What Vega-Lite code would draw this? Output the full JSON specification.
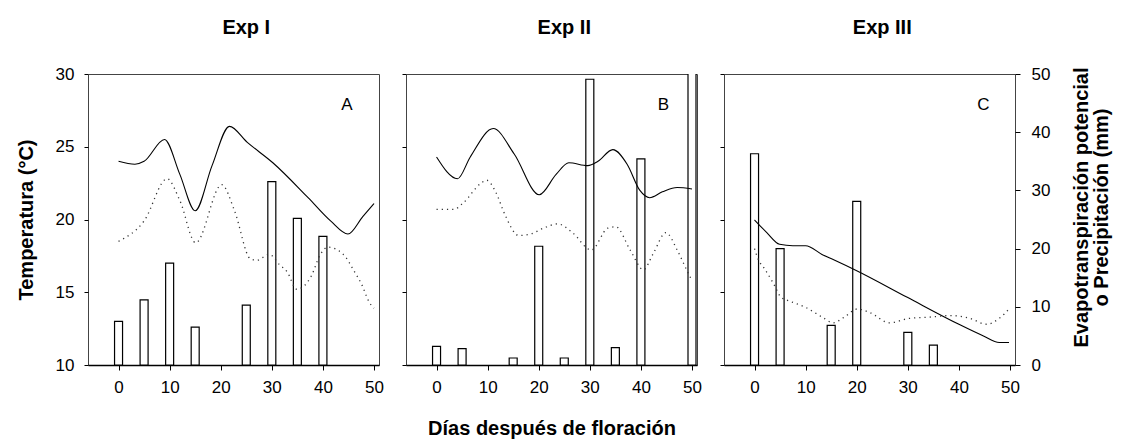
{
  "$schema": "https://vega.github.io/schema/vega-lite/v6.json",
  "padding": {"left": 15, "top": 17, "right": 5, "bottom": 0},
  "background": "white",
  "config": {
    "font": "Liberation Sans",
    "view": {"stroke": "#444", "strokeWidth": 1},
    "axis": {"grid": false, "labelFont": "Liberation Sans", "labelFontSize": 17, "labelColor": "black", "tickColor": "black", "domainColor": "#333", "titleFont": "Liberation Sans", "titleFontSize": 20, "titleFontWeight": "bold", "titleColor": "black"}
  },
  "datasets": {
    "bars": [
      {"exp": "A", "day": 0, "mm": 7.5}, {"exp": "A", "day": 5, "mm": 11.2}, {"exp": "A", "day": 10, "mm": 17.5}, {"exp": "A", "day": 15, "mm": 6.5}, {"exp": "A", "day": 25, "mm": 10.3}, {"exp": "A", "day": 30, "mm": 31.5}, {"exp": "A", "day": 35, "mm": 25.2}, {"exp": "A", "day": 40, "mm": 22.1},
      {"exp": "B", "day": 0, "mm": 3.2}, {"exp": "B", "day": 5, "mm": 2.8}, {"exp": "B", "day": 15, "mm": 1.2}, {"exp": "B", "day": 20, "mm": 20.4}, {"exp": "B", "day": 25, "mm": 1.2}, {"exp": "B", "day": 30, "mm": 49.1}, {"exp": "B", "day": 35, "mm": 3.0}, {"exp": "B", "day": 40, "mm": 35.4}, {"exp": "B", "day": 50, "mm": 55},
      {"exp": "C", "day": 0, "mm": 36.3}, {"exp": "C", "day": 5, "mm": 20.0}, {"exp": "C", "day": 15, "mm": 6.8}, {"exp": "C", "day": 20, "mm": 28.1}, {"exp": "C", "day": 30, "mm": 5.6}, {"exp": "C", "day": 35, "mm": 3.4}
    ],
    "lines": [
      {"exp": "A", "s": "max", "day": 0, "t": 24.0}, {"exp": "A", "s": "max", "day": 3.2, "t": 23.8}, {"exp": "A", "s": "max", "day": 5, "t": 24.0}, {"exp": "A", "s": "max", "day": 9, "t": 25.5}, {"exp": "A", "s": "max", "day": 12, "t": 23.1}, {"exp": "A", "s": "max", "day": 15, "t": 20.6}, {"exp": "A", "s": "max", "day": 18.3, "t": 23.7}, {"exp": "A", "s": "max", "day": 21.7, "t": 26.4}, {"exp": "A", "s": "max", "day": 25.2, "t": 25.3}, {"exp": "A", "s": "max", "day": 30.2, "t": 23.9}, {"exp": "A", "s": "max", "day": 37.1, "t": 21.5}, {"exp": "A", "s": "max", "day": 41.5, "t": 19.9}, {"exp": "A", "s": "max", "day": 44.9, "t": 19.0}, {"exp": "A", "s": "max", "day": 47.8, "t": 20.2}, {"exp": "A", "s": "max", "day": 50, "t": 21.1},
      {"exp": "A", "s": "min", "day": 0, "t": 18.5}, {"exp": "A", "s": "min", "day": 5, "t": 19.9}, {"exp": "A", "s": "min", "day": 9.5, "t": 22.8}, {"exp": "A", "s": "min", "day": 12, "t": 21.3}, {"exp": "A", "s": "min", "day": 15.1, "t": 18.4}, {"exp": "A", "s": "min", "day": 20.2, "t": 22.4}, {"exp": "A", "s": "min", "day": 22.7, "t": 20.6}, {"exp": "A", "s": "min", "day": 25.8, "t": 17.3}, {"exp": "A", "s": "min", "day": 27.1, "t": 17.2}, {"exp": "A", "s": "min", "day": 29.5, "t": 17.6}, {"exp": "A", "s": "min", "day": 31.5, "t": 16.9}, {"exp": "A", "s": "min", "day": 33, "t": 16.4}, {"exp": "A", "s": "min", "day": 34.9, "t": 15.2}, {"exp": "A", "s": "min", "day": 37.7, "t": 16.1}, {"exp": "A", "s": "min", "day": 39.5, "t": 17.6}, {"exp": "A", "s": "min", "day": 41, "t": 18.1}, {"exp": "A", "s": "min", "day": 44, "t": 17.6}, {"exp": "A", "s": "min", "day": 46.2, "t": 16.4}, {"exp": "A", "s": "min", "day": 47.5, "t": 15.6}, {"exp": "A", "s": "min", "day": 49.1, "t": 14.3}, {"exp": "A", "s": "min", "day": 50, "t": 13.9},
      {"exp": "B", "s": "max", "day": 0, "t": 24.3}, {"exp": "B", "s": "max", "day": 4.1, "t": 22.8}, {"exp": "B", "s": "max", "day": 6.6, "t": 24.3}, {"exp": "B", "s": "max", "day": 11.1, "t": 26.25}, {"exp": "B", "s": "max", "day": 15.2, "t": 24.5}, {"exp": "B", "s": "max", "day": 20.1, "t": 21.7}, {"exp": "B", "s": "max", "day": 23.4, "t": 23.1}, {"exp": "B", "s": "max", "day": 25.9, "t": 23.9}, {"exp": "B", "s": "max", "day": 29.6, "t": 23.7}, {"exp": "B", "s": "max", "day": 31.6, "t": 24.0}, {"exp": "B", "s": "max", "day": 34.5, "t": 24.8}, {"exp": "B", "s": "max", "day": 37.3, "t": 23.8}, {"exp": "B", "s": "max", "day": 39.8, "t": 22.0}, {"exp": "B", "s": "max", "day": 41.7, "t": 21.5}, {"exp": "B", "s": "max", "day": 44.2, "t": 21.9}, {"exp": "B", "s": "max", "day": 47.1, "t": 22.2}, {"exp": "B", "s": "max", "day": 50, "t": 22.1},
      {"exp": "B", "s": "min", "day": 0, "t": 20.7}, {"exp": "B", "s": "min", "day": 3.5, "t": 20.7}, {"exp": "B", "s": "min", "day": 5.1, "t": 21.1}, {"exp": "B", "s": "min", "day": 8.9, "t": 22.55}, {"exp": "B", "s": "min", "day": 9.8, "t": 22.7}, {"exp": "B", "s": "min", "day": 11.7, "t": 21.8}, {"exp": "B", "s": "min", "day": 13.3, "t": 20.4}, {"exp": "B", "s": "min", "day": 16.1, "t": 18.9}, {"exp": "B", "s": "min", "day": 18.4, "t": 19.0}, {"exp": "B", "s": "min", "day": 20.9, "t": 19.4}, {"exp": "B", "s": "min", "day": 23.7, "t": 19.7}, {"exp": "B", "s": "min", "day": 26.6, "t": 19.1}, {"exp": "B", "s": "min", "day": 30.3, "t": 17.9}, {"exp": "B", "s": "min", "day": 33.5, "t": 19.4}, {"exp": "B", "s": "min", "day": 35.1, "t": 19.5}, {"exp": "B", "s": "min", "day": 37.9, "t": 17.9}, {"exp": "B", "s": "min", "day": 40.5, "t": 16.55}, {"exp": "B", "s": "min", "day": 42.4, "t": 17.65}, {"exp": "B", "s": "min", "day": 44.9, "t": 19.1}, {"exp": "B", "s": "min", "day": 47.1, "t": 17.9}, {"exp": "B", "s": "min", "day": 49, "t": 16.5}, {"exp": "B", "s": "min", "day": 50, "t": 15.8},
      {"exp": "C", "s": "max", "day": 0, "t": 19.97}, {"exp": "C", "s": "max", "day": 2.4, "t": 19.1}, {"exp": "C", "s": "max", "day": 4.9, "t": 18.3}, {"exp": "C", "s": "max", "day": 7.5, "t": 18.2}, {"exp": "C", "s": "max", "day": 10, "t": 18.2}, {"exp": "C", "s": "max", "day": 13.2, "t": 17.6}, {"exp": "C", "s": "max", "day": 15.7, "t": 17.2}, {"exp": "C", "s": "max", "day": 19.9, "t": 16.5}, {"exp": "C", "s": "max", "day": 29.9, "t": 14.65}, {"exp": "C", "s": "max", "day": 40, "t": 12.8}, {"exp": "C", "s": "max", "day": 44.8, "t": 12.0}, {"exp": "C", "s": "max", "day": 47.9, "t": 11.55}, {"exp": "C", "s": "max", "day": 49.8, "t": 11.55},
      {"exp": "C", "s": "min", "day": 0, "t": 18.0}, {"exp": "C", "s": "min", "day": 0.8, "t": 17.2}, {"exp": "C", "s": "min", "day": 1.8, "t": 16.7}, {"exp": "C", "s": "min", "day": 3.7, "t": 15.6}, {"exp": "C", "s": "min", "day": 5.2, "t": 14.65}, {"exp": "C", "s": "min", "day": 6.8, "t": 14.4}, {"exp": "C", "s": "min", "day": 10, "t": 13.96}, {"exp": "C", "s": "min", "day": 13.2, "t": 13.3}, {"exp": "C", "s": "min", "day": 15.4, "t": 12.9}, {"exp": "C", "s": "min", "day": 17.6, "t": 13.3}, {"exp": "C", "s": "min", "day": 20.1, "t": 13.85}, {"exp": "C", "s": "min", "day": 22.6, "t": 13.6}, {"exp": "C", "s": "min", "day": 26.4, "t": 12.9}, {"exp": "C", "s": "min", "day": 30.2, "t": 13.2}, {"exp": "C", "s": "min", "day": 34.6, "t": 13.3}, {"exp": "C", "s": "min", "day": 38.4, "t": 13.4}, {"exp": "C", "s": "min", "day": 42.2, "t": 13.2}, {"exp": "C", "s": "min", "day": 45.4, "t": 12.8}, {"exp": "C", "s": "min", "day": 47.9, "t": 13.2}, {"exp": "C", "s": "min", "day": 49.8, "t": 13.85}
    ],
    "labels": [
      {"exp": "A", "label": "A", "day": 44.7, "t": 27.9},
      {"exp": "B", "label": "B", "day": 44.4, "t": 27.9},
      {"exp": "C", "label": "C", "day": 44.8, "t": 27.9}
    ],
    "titles": [
      {"exp": "A", "label": "Exp I", "day": 25, "t": 32.75},
      {"exp": "B", "label": "Exp II", "day": 25, "t": 32.75},
      {"exp": "C", "label": "Exp III", "day": 25, "t": 32.75}
    ]
  },
  "hconcat": [
    {
      "width": 291, "height": 291,
      "resolve": {"scale": {"y": "independent"}},
      "layer": [
        {
          "data": {"name": "bars"},
          "transform": [{"filter": "datum.exp === 'A'"}],
          "mark": {"type": "bar", "width": 8, "fill": "white", "stroke": "black", "strokeWidth": 1.2, "clip": true},
          "encoding": {
            "x": {"field": "day", "type": "quantitative", "scale": {"domain": [-5, 50], "nice": false, "zero": false}, "axis": {"values": [0, 10, 20, 30, 40, 50], "tickSize": 5, "labelPadding": 9, "title": null, "domainColor": "black", "domainWidth": 1.5}},
            "y": {"field": "mm", "type": "quantitative", "scale": {"domain": [0, 50], "nice": false}, "axis": null}
          }
        },
        {
          "layer": [
            {
              "data": {"name": "lines"},
              "transform": [{"filter": "datum.exp === 'A' && datum.s === 'max'"}],
              "mark": {"type": "line", "interpolate": "monotone", "color": "black", "strokeWidth": 1.1, "clip": true},
              "encoding": {
                "x": {"field": "day", "type": "quantitative", "scale": {"domain": [-5, 50], "nice": false, "zero": false}},
                "y": {"field": "t", "type": "quantitative", "scale": {"domain": [10, 30], "nice": false, "zero": false}, "axis": {"orient": "left", "values": [10, 15, 20, 25, 30], "tickSize": 4, "labelPadding": 10, "title": "Temperatura (°C)", "titlePadding": 19, "domain": false}}
              }
            },
            {
              "data": {"name": "lines"},
              "transform": [{"filter": "datum.exp === 'A' && datum.s === 'min'"}],
              "mark": {"type": "line", "interpolate": "monotone", "color": "#333", "strokeWidth": 1.3, "strokeDash": [1.2, 4], "clip": true},
              "encoding": {
                "x": {"field": "day", "type": "quantitative"},
                "y": {"field": "t", "type": "quantitative"}
              }
            },
            {
              "data": {"name": "labels"},
              "transform": [{"filter": "datum.exp === 'A'"}],
              "mark": {"type": "text", "fontSize": 17, "font": "Liberation Sans", "align": "center", "baseline": "middle", "color": "black"},
              "encoding": {
                "x": {"field": "day", "type": "quantitative"},
                "y": {"field": "t", "type": "quantitative"},
                "text": {"field": "label"}
              }
            },
            {
              "data": {"name": "titles"},
              "transform": [{"filter": "datum.exp === 'A'"}],
              "mark": {"type": "text", "fontSize": 20, "fontWeight": "bold", "font": "Liberation Sans", "align": "center", "baseline": "alphabetic", "color": "black"},
              "encoding": {
                "x": {"field": "day", "type": "quantitative"},
                "y": {"field": "t", "type": "quantitative"},
                "text": {"field": "label"}
              }
            }
          ]
        }
      ]
    },
    {
      "width": 291, "height": 291,
      "resolve": {"scale": {"y": "independent"}},
      "layer": [
        {
          "data": {"name": "bars"},
          "transform": [{"filter": "datum.exp === 'B'"}],
          "mark": {"type": "bar", "width": 8, "fill": "white", "stroke": "black", "strokeWidth": 1.2, "clip": true},
          "encoding": {
            "x": {"field": "day", "type": "quantitative", "scale": {"domain": [-5, 50], "nice": false, "zero": false}, "axis": {"values": [0, 10, 20, 30, 40, 50], "tickSize": 5, "labelPadding": 9, "title": "Días después de floración", "titlePadding": 23, "domainColor": "black", "domainWidth": 1.5}},
            "y": {"field": "mm", "type": "quantitative", "scale": {"domain": [0, 50], "nice": false}, "axis": null}
          }
        },
        {
          "layer": [
            {
              "data": {"name": "lines"},
              "transform": [{"filter": "datum.exp === 'B' && datum.s === 'max'"}],
              "mark": {"type": "line", "interpolate": "monotone", "color": "black", "strokeWidth": 1.1, "clip": true},
              "encoding": {
                "x": {"field": "day", "type": "quantitative", "scale": {"domain": [-5, 50], "nice": false, "zero": false}},
                "y": {"field": "t", "type": "quantitative", "scale": {"domain": [10, 30], "nice": false, "zero": false}, "axis": {"orient": "left", "values": [10, 15, 20, 25, 30], "tickSize": 4, "labels": false, "title": null, "domain": false}}
              }
            },
            {
              "data": {"name": "lines"},
              "transform": [{"filter": "datum.exp === 'B' && datum.s === 'min'"}],
              "mark": {"type": "line", "interpolate": "monotone", "color": "#333", "strokeWidth": 1.3, "strokeDash": [1.2, 4], "clip": true},
              "encoding": {
                "x": {"field": "day", "type": "quantitative"},
                "y": {"field": "t", "type": "quantitative"}
              }
            },
            {
              "data": {"name": "labels"},
              "transform": [{"filter": "datum.exp === 'B'"}],
              "mark": {"type": "text", "fontSize": 17, "font": "Liberation Sans", "align": "center", "baseline": "middle", "color": "black"},
              "encoding": {
                "x": {"field": "day", "type": "quantitative"},
                "y": {"field": "t", "type": "quantitative"},
                "text": {"field": "label"}
              }
            },
            {
              "data": {"name": "titles"},
              "transform": [{"filter": "datum.exp === 'B'"}],
              "mark": {"type": "text", "fontSize": 20, "fontWeight": "bold", "font": "Liberation Sans", "align": "center", "baseline": "alphabetic", "color": "black"},
              "encoding": {
                "x": {"field": "day", "type": "quantitative"},
                "y": {"field": "t", "type": "quantitative"},
                "text": {"field": "label"}
              }
            }
          ]
        }
      ]
    },
    {
      "width": 291, "height": 291,
      "resolve": {"scale": {"y": "independent"}},
      "layer": [
        {
          "data": {"name": "bars"},
          "transform": [{"filter": "datum.exp === 'C'"}],
          "mark": {"type": "bar", "width": 8, "fill": "white", "stroke": "black", "strokeWidth": 1.2, "clip": true},
          "encoding": {
            "x": {"field": "day", "type": "quantitative", "scale": {"domain": [-5, 50], "nice": false, "zero": false}, "axis": {"values": [0, 10, 20, 30, 40, 50], "tickSize": 5, "labelPadding": 9, "title": null, "domainColor": "black", "domainWidth": 1.5}},
            "y": {"field": "mm", "type": "quantitative", "scale": {"domain": [0, 50], "nice": false}, "axis": {"orient": "right", "values": [0, 10, 20, 30, 40, 50], "tickSize": 5, "labelPadding": 11, "title": ["Evapotranspiración potencial", "o Precipitación (mm)"], "titleAngle": 270, "titleLineHeight": 20, "titlePadding": 22, "titleY": 133, "domain": false}}
          }
        },
        {
          "layer": [
            {
              "data": {"name": "lines"},
              "transform": [{"filter": "datum.exp === 'C' && datum.s === 'max'"}],
              "mark": {"type": "line", "interpolate": "monotone", "color": "black", "strokeWidth": 1.1, "clip": true},
              "encoding": {
                "x": {"field": "day", "type": "quantitative", "scale": {"domain": [-5, 50], "nice": false, "zero": false}},
                "y": {"field": "t", "type": "quantitative", "scale": {"domain": [10, 30], "nice": false, "zero": false}, "axis": {"orient": "left", "values": [10, 15, 20, 25, 30], "tickSize": 4, "labels": false, "title": null, "domain": false}}
              }
            },
            {
              "data": {"name": "lines"},
              "transform": [{"filter": "datum.exp === 'C' && datum.s === 'min'"}],
              "mark": {"type": "line", "interpolate": "monotone", "color": "#333", "strokeWidth": 1.3, "strokeDash": [1.2, 4], "clip": true},
              "encoding": {
                "x": {"field": "day", "type": "quantitative"},
                "y": {"field": "t", "type": "quantitative"}
              }
            },
            {
              "data": {"name": "labels"},
              "transform": [{"filter": "datum.exp === 'C'"}],
              "mark": {"type": "text", "fontSize": 17, "font": "Liberation Sans", "align": "center", "baseline": "middle", "color": "black"},
              "encoding": {
                "x": {"field": "day", "type": "quantitative"},
                "y": {"field": "t", "type": "quantitative"},
                "text": {"field": "label"}
              }
            },
            {
              "data": {"name": "titles"},
              "transform": [{"filter": "datum.exp === 'C'"}],
              "mark": {"type": "text", "fontSize": 20, "fontWeight": "bold", "font": "Liberation Sans", "align": "center", "baseline": "alphabetic", "color": "black"},
              "encoding": {
                "x": {"field": "day", "type": "quantitative"},
                "y": {"field": "t", "type": "quantitative"},
                "text": {"field": "label"}
              }
            }
          ]
        }
      ]
    }
  ],
  "spacing": 27,
  "bounds": "flush"
}
